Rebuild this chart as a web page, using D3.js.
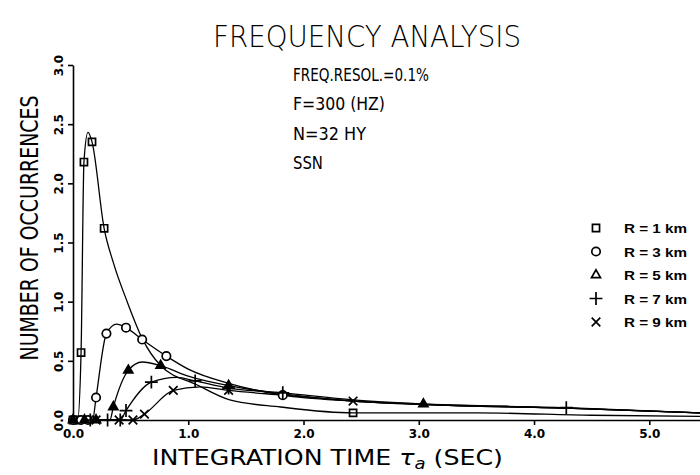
<!DOCTYPE html>
<html>
<head>
<meta charset="utf-8">
<script src="https://cdn.jsdelivr.net/npm/d3@7"></script>
<style>
  body { margin: 0; background: #fff; }
  svg { display: block; }
</style>
</head>
<body>
<svg id="chart"></svg>
<script>
// integration time (sec) and number of occurrences
var r1Tau  = [0.0, 0.04, 0.07, 0.095, 0.13, 0.165, 0.27, 0.35, 0.47, 0.6, 0.76, 1.07, 1.36, 1.8, 2.43, 3.5, 4.5, 5.44]
var r1Val  = [0, 0, 0.57, 2.18, 2.43, 2.35, 1.62, 1.33, 1.0, 0.69, 0.46, 0.30, 0.17, 0.11, 0.06, 0.06, 0.04, 0.03]
var r1Mark = [1, 1, 1, 1, 0, 1, 1, 0, 0, 0, 0, 0, 0, 0, 1, 0, 0, 0]

var r3Tau  = [0.0, 0.07, 0.13, 0.17, 0.2, 0.29, 0.38, 0.46, 0.6, 0.81, 1.0, 1.35, 1.82, 2.43, 3.04, 4.28, 5.44]
var r3Val  = [0, 0, 0, 0, 0.19, 0.73, 0.81, 0.78, 0.68, 0.54, 0.43, 0.31, 0.21, 0.16, 0.13, 0.10, 0.06]
var r3Mark = [1, 1, 1, 0, 1, 1, 0, 1, 1, 1, 0, 0, 1, 0, 0, 0, 0]

var r5Tau  = [0.0, 0.1, 0.2, 0.32, 0.35, 0.48, 0.6, 0.76, 1.0, 1.35, 1.82, 2.43, 3.04, 4.28, 5.44]
var r5Val  = [0, 0, 0, 0, 0.11, 0.42, 0.49, 0.46, 0.37, 0.29, 0.22, 0.16, 0.135, 0.10, 0.06]
var r5Mark = [1, 1, 1, 0, 1, 1, 0, 1, 0, 1, 0, 0, 1, 0, 0]

var r7Tau  = [0.0, 0.15, 0.3, 0.41, 0.46, 0.68, 0.9, 1.06, 1.35, 1.82, 2.43, 3.04, 4.28, 5.44]
var r7Val  = [0, 0, 0, 0, 0.08, 0.32, 0.36, 0.33, 0.27, 0.23, 0.17, 0.135, 0.105, 0.06]
var r7Mark = [0, 1, 1, 1, 1, 1, 0, 1, 1, 1, 0, 0, 1, 0]

var r9Tau  = [0.0, 0.2, 0.4, 0.52, 0.62, 0.87, 1.1, 1.35, 1.82, 2.43, 3.04, 4.28, 5.44]
var r9Val  = [0, 0, 0, 0, 0.05, 0.25, 0.28, 0.25, 0.21, 0.16, 0.13, 0.10, 0.06]
var r9Mark = [0, 1, 1, 1, 1, 1, 0, 1, 0, 1, 0, 0, 0]

var seriesNames = ["R = 1  km", "R = 3  km", "R = 5  km", "R = 7  km", "R = 9  km"]
var xTicks = [0, 1, 2, 3, 4, 5]
var yTicks = [0, 0.5, 1, 1.5, 2, 2.5, 3]
var notes = ["FREQ.RESOL.=0.1%", "F=300 (HZ)", "N=32 HY", "SSN"]

var makeSeries = function(tau, val, mark)
{
    return tau.map(function(t, i)
    {
        return {tau: t, value: val[i], mark: mark[i]}
    })
}

var series = [
    makeSeries(r1Tau, r1Val, r1Mark),
    makeSeries(r3Tau, r3Val, r3Mark),
    makeSeries(r5Tau, r5Val, r5Mark),
    makeSeries(r7Tau, r7Val, r7Mark),
    makeSeries(r9Tau, r9Val, r9Mark)
]

var symbols = [d3.symbolSquare2, d3.symbolCircle, d3.symbolTriangle2, d3.symbolPlus, d3.symbolTimes]
var symbolSizes = [64, 56, 58, 56, 50]

var screen = {width:700, height:475}
var svg = d3.select("#chart")
    .attr("width", screen.width)
    .attr("height", screen.height)
    .attr("font-family", "'DejaVu Sans Condensed', 'DejaVu Sans', sans-serif")

var xScale = d3.scaleLinear()
    .domain([0, 5.44])
    .range([73, 700])

var yScale = d3.scaleLinear()
    .domain([0, 3])
    .range([420, 65])

// axes
var xAxis = svg.append("g")
    .attr("transform", "translate(0," + yScale(0) + ")")
    .call(d3.axisBottom(xScale)
        .tickValues(xTicks)
        .tickSize(5)
        .tickSizeOuter(0)
        .tickFormat(d3.format(".1f")))

xAxis.selectAll("path, line")
    .attr("stroke", "#000")
    .attr("stroke-width", 1.6)
xAxis.selectAll("text")
    .attr("fill", "#000")
    .attr("font-family", "'DejaVu Sans', sans-serif")
    .attr("font-weight", "bold")
    .attr("font-size", 12)
    .attr("y", 9)

var yAxis = svg.append("g")
    .attr("transform", "translate(" + xScale(0) + ",0)")
    .call(d3.axisLeft(yScale)
        .tickValues(yTicks)
        .tickSize(5)
        .tickSizeOuter(0)
        .tickFormat(d3.format(".1f")))

yAxis.selectAll("path, line")
    .attr("stroke", "#000")
    .attr("stroke-width", 1.6)
yAxis.selectAll("text")
    .attr("fill", "#000")
    .attr("font-family", "'DejaVu Sans', sans-serif")
    .attr("font-weight", "bold")
    .attr("font-size", 12)
    .attr("x", 0)
    .attr("y", -10)
    .attr("dy", null)
    .attr("text-anchor", "middle")
    .attr("transform", "rotate(-90)")

// curves
var lineGenerator = d3.line()
    .x(function(entry)
    {
        return xScale(entry.tau)
    })
    .y(function(entry)
    {
        return yScale(entry.value)
    })
    .curve(d3.curveMonotoneX)

var lines = svg.append("g")
    .selectAll("path")
    .data(series)
    .enter()
    .append("path")
    .attr("d", lineGenerator)
    .attr("fill", "none")
    .attr("stroke", "#000")
    .attr("stroke-width", 1.3)

var markers = svg.append("g")
    .selectAll("g")
    .data(series)
    .enter()
    .append("g")

markers.each(function(s, i)
{
    d3.select(this)
        .selectAll("path")
        .data(s.filter(function(entry) { return entry.mark == 1 }))
        .enter()
        .append("path")
        .attr("d", d3.symbol().type(symbols[i]).size(symbolSizes[i]))
        .attr("transform", function(entry)
        {
            return "translate(" + xScale(entry.tau) + "," + yScale(entry.value) + ")"
        })
        .attr("fill", i == 1 ? "#fff" : (i == 2 ? "#000" : "none"))
        .attr("stroke", "#000")
        .attr("stroke-width", 1.7)
})

// legend
var legend = svg.append("g")
    .selectAll("g")
    .data(seriesNames)
    .enter()
    .append("g")
    .attr("transform", function(d, i)
    {
        return "translate(596," + (228 + i * 23.5) + ")"
    })

legend.append("path")
    .attr("d", function(d, i)
    {
        return d3.symbol().type(symbols[i]).size(symbolSizes[i])()
    })
    .attr("fill", "none")
    .attr("stroke", "#000")
    .attr("stroke-width", 1.7)

legend.append("text")
    .attr("x", 28)
    .attr("y", 5)
    .attr("font-family", "'Liberation Sans', Arial, sans-serif")
    .attr("font-weight", "bold")
    .attr("font-size", 13)
    .attr("textLength", 63)
    .attr("lengthAdjust", "spacingAndGlyphs")
    .text(function(d) { return d })

// annotation block
var noteWidths = [136, 92, 73, 30]
svg.append("g")
    .selectAll("text")
    .data(notes)
    .enter()
    .append("text")
    .attr("x", 293)
    .attr("y", function(d, i) { return 81 + i * 29.3 })
    .attr("font-size", 17)
    .attr("textLength", function(d, i) { return noteWidths[i] })
    .attr("lengthAdjust", "spacingAndGlyphs")
    .text(function(d) { return d })

// titles
svg.append("text")
    .attr("x", 367)
    .attr("y", 47)
    .attr("text-anchor", "middle")
    .attr("font-family", "'DejaVu Sans', sans-serif")
    .attr("font-weight", 200)
    .attr("font-size", 30)
    .attr("textLength", 308)
    .attr("lengthAdjust", "spacingAndGlyphs")
    .text("FREQUENCY ANALYSIS")

svg.append("text")
    .attr("transform", "translate(38,228) rotate(-90)")
    .attr("text-anchor", "middle")
    .attr("font-size", 24)
    .attr("textLength", 265)
    .attr("lengthAdjust", "spacingAndGlyphs")
    .text("NUMBER OF OCCURRENCES")

var xTitle = svg.append("text")
    .attr("x", 152)
    .attr("y", 465)
    .attr("font-size", 21)
    .attr("textLength", 351)
    .attr("lengthAdjust", "spacingAndGlyphs")

xTitle.append("tspan").text("INTEGRATION TIME ")
xTitle.append("tspan").attr("font-style", "italic").text("τ")
xTitle.append("tspan").attr("font-size", 15).attr("dy", 4).attr("font-style", "italic").text("a")
xTitle.append("tspan").attr("dy", -4).text(" (SEC)")
</script>
</body>
</html>
